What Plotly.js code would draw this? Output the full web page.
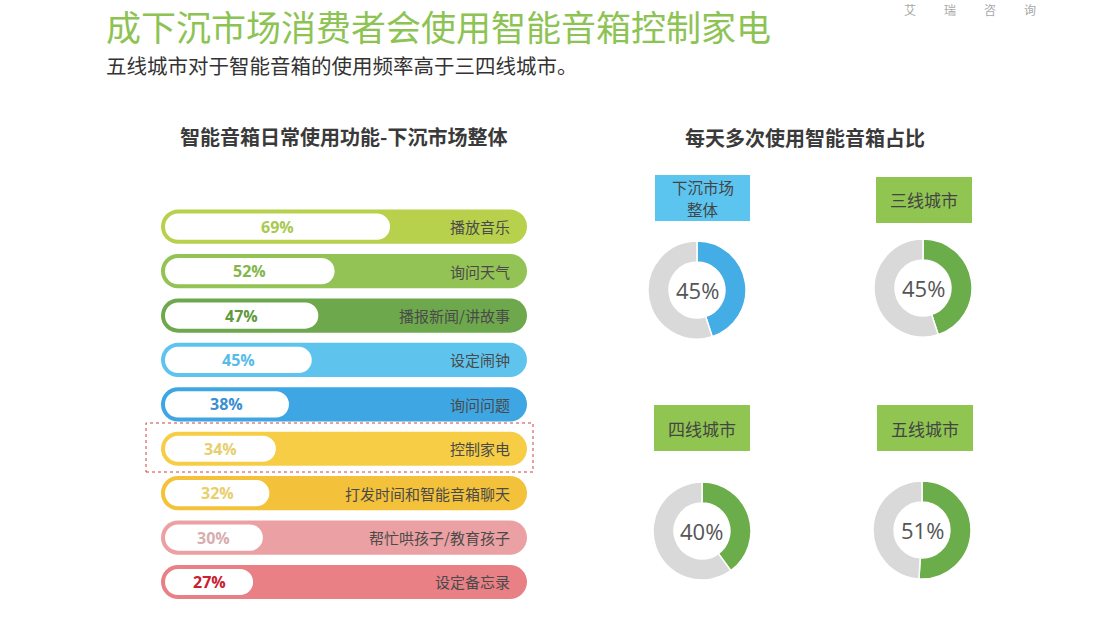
<!DOCTYPE html>
<html>
<head>
<meta charset="utf-8">
<script src="https://cdn.plot.ly/plotly-3.0.1.min.js"></script>
<style>
  html, body { margin: 0; padding: 0; background: #fff; }
  #chart { width: 1111px; height: 624px; }
</style>
</head>
<body>
<div id="chart"></div>
<script>
// 智能音箱日常使用功能（下沉市场整体）
const funcLabels = ['播放音乐', '询问天气', '播报新闻/讲故事', '设定闹钟', '询问问题',
    '控制家电', '打发时间和智能音箱聊天', '帮忙哄孩子/教育孩子', '设定备忘录'];
const funcValues = [69, 52, 47, 45, 38, 34, 32, 30, 27];
const trackColors = ['#b8d14c', '#93c255', '#6ea84c', '#5ec4ee', '#3ea6e3',
    '#f6cd44', '#f3c23a', '#eba0a3', '#e88086'];
const pctColors = ['#a9c94e', '#84b64a', '#5f9a40', '#58bce8', '#3a90d2',
    '#e6cf6e', '#e8cf6a', '#d8adb0', '#c8202f'];

// 每天多次使用智能音箱占比（名称按行拆分）
const donutNames = [['下沉市场', '整体'], ['三线城市'], ['四线城市'], ['五线城市']];
const donutValues = [45, 45, 40, 51];
const donutColors = ['#45ade6', '#6aad4a', '#6aad4a', '#6aad4a'];
const boxColors = ['#5bc5f0', '#8fc550', '#8fc550', '#8fc550'];

const W = 1111, H = 624;
const px = x => x / W;
const py = y => 1 - y / H;

// 横轴范围（白色条从0开始）
const X_MIN = -1.23, X_MAX = 111;

const FONT = '"Noto Sans CJK SC", "Noto Sans", sans-serif';

const traces = [];

// 彩色底条
traces.push({
    type: 'bar', orientation: 'h',
    y: funcLabels,
    x: funcLabels.map(() => X_MAX - X_MIN),
    base: X_MIN,
    width: 0.77,
    marker: { color: trackColors, cornerradius: '50%' },
    hoverinfo: 'skip'
});

// 白色数值条
traces.push({
    type: 'bar', orientation: 'h',
    y: funcLabels,
    x: funcValues,
    base: 0,
    width: 0.59,
    marker: { color: '#ffffff', cornerradius: '50%' },
    hoverinfo: 'skip'
});

// 环形图位置
const donutCenters = [[697, 290], [923, 288], [702, 531], [922, 530]];
const donutR = 49;
const boxRects = [[655, 175, 750, 221], [876, 177, 972, 223], [654, 405, 750, 451], [877, 405, 973, 451]];

donutValues.forEach((v, i) => {
    const [cx, cy] = donutCenters[i];
    traces.push({
        type: 'pie',
        values: [v, 100 - v],
        marker: { colors: [donutColors[i], '#d9d9d9'], line: { color: '#ffffff', width: 1.5 } },
        hole: 0.57,
        sort: false,
        direction: 'clockwise',
        rotation: 0,
        textinfo: 'none',
        hoverinfo: 'skip',
        showlegend: false,
        domain: { x: [px(cx - donutR), px(cx + donutR)], y: [py(cy + donutR), py(cy - donutR)] }
    });
});

const annotations = [];
const shapes = [];

// 标题
annotations.push({
    xref: 'paper', yref: 'paper', x: px(104), y: py(26), xanchor: 'left', yanchor: 'middle',
    text: '成下沉市场消费者会使用智能音箱控制家电', showarrow: false,
    font: { family: FONT, size: 35, color: '#8dc353' }
});
annotations.push({
    xref: 'paper', yref: 'paper', x: px(104), y: py(65), xanchor: 'left', yanchor: 'middle',
    text: '五线城市对于智能音箱的使用频率高于三四线城市。', showarrow: false,
    font: { family: FONT, size: 20.5, color: '#333333' }
});

// 艾瑞咨询
['艾', '瑞', '咨', '询'].forEach((c, i) => {
    annotations.push({
        xref: 'paper', yref: 'paper', x: px(910 + i * 40), y: py(10), xanchor: 'center', yanchor: 'middle',
        text: c, showarrow: false,
        font: { family: FONT, size: 12, color: '#a8a8a8' }
    });
});

// 小标题
annotations.push({
    xref: 'paper', yref: 'paper', x: px(343), y: py(136), xanchor: 'center', yanchor: 'middle',
    text: '<b>智能音箱日常使用功能-下沉市场整体</b>', showarrow: false,
    font: { family: FONT, size: 20, color: '#3a3a3a' }
});
annotations.push({
    xref: 'paper', yref: 'paper', x: px(805), y: py(137), xanchor: 'center', yanchor: 'middle',
    text: '<b>每天多次使用智能音箱占比</b>', showarrow: false,
    font: { family: FONT, size: 20, color: '#3a3a3a' }
});

// 功能名称与百分比
funcLabels.forEach((label, i) => {
    annotations.push({
        xref: 'paper', yref: 'y', x: px(512), y: label, xanchor: 'right', yanchor: 'middle',
        text: label, showarrow: false,
        font: { family: FONT, size: 15, color: '#4a4a4a' }
    });
    annotations.push({
        xref: 'x', yref: 'y', x: funcValues[i] / 2, y: label, xanchor: 'center', yanchor: 'middle',
        text: '<b>' + funcValues[i] + '%</b>', showarrow: false,
        font: { family: '"Open Sans", "Noto Sans", sans-serif', size: 16, color: pctColors[i] }
    });
});

// 环形图标签与中心数值
donutValues.forEach((v, i) => {
    const [cx, cy] = donutCenters[i];
    const [x0, y0, x1, y1] = boxRects[i];
    shapes.push({
        type: 'rect', xref: 'paper', yref: 'paper',
        x0: px(x0), x1: px(x1), y0: py(y1), y1: py(y0),
        fillcolor: boxColors[i], line: { width: 0 }
    });
    const lines = donutNames[i];
    const lineH = 22;
    const midY = (y0 + y1) / 2;
    lines.forEach((t, k) => {
        annotations.push({
            xref: 'paper', yref: 'paper', x: px((x0 + x1) / 2),
            y: py(midY + (k - (lines.length - 1) / 2) * lineH),
            xanchor: 'center', yanchor: 'middle', borderpad: 0,
            text: t, showarrow: false,
            font: { family: FONT, size: lines.length > 1 ? 15.5 : 17, color: '#444444' }
        });
    });
    annotations.push({
        xref: 'paper', yref: 'paper', x: px(cx), y: py(cy),
        xanchor: 'center', yanchor: 'middle',
        text: v + '%', showarrow: false,
        font: { family: '"Open Sans", "Noto Sans", sans-serif', size: 22, color: '#555555' }
    });
});

// 控制家电 虚线框
shapes.push({
    type: 'rect', xref: 'paper', yref: 'paper',
    x0: px(146), x1: px(533), y0: py(472), y1: py(423),
    line: { color: '#cc4444', width: 1, dash: 'dot' }
});

const layout = {
    width: W, height: H,
    margin: { l: 0, r: 0, t: 0, b: 0 },
    paper_bgcolor: '#ffffff',
    plot_bgcolor: 'rgba(0,0,0,0)',
    barmode: 'overlay',
    showlegend: false,
    xaxis: {
        domain: [px(161), px(527)],
        range: [X_MIN, X_MAX],
        visible: false, fixedrange: true
    },
    yaxis: {
        type: 'category',
        domain: [py(604.2), py(204.5)],
        range: [funcLabels.length - 0.5, -0.5],
        visible: false, fixedrange: true
    },
    annotations: annotations,
    shapes: shapes
};

Plotly.newPlot('chart', traces, layout, { staticPlot: true });
</script>
</body>
</html>
